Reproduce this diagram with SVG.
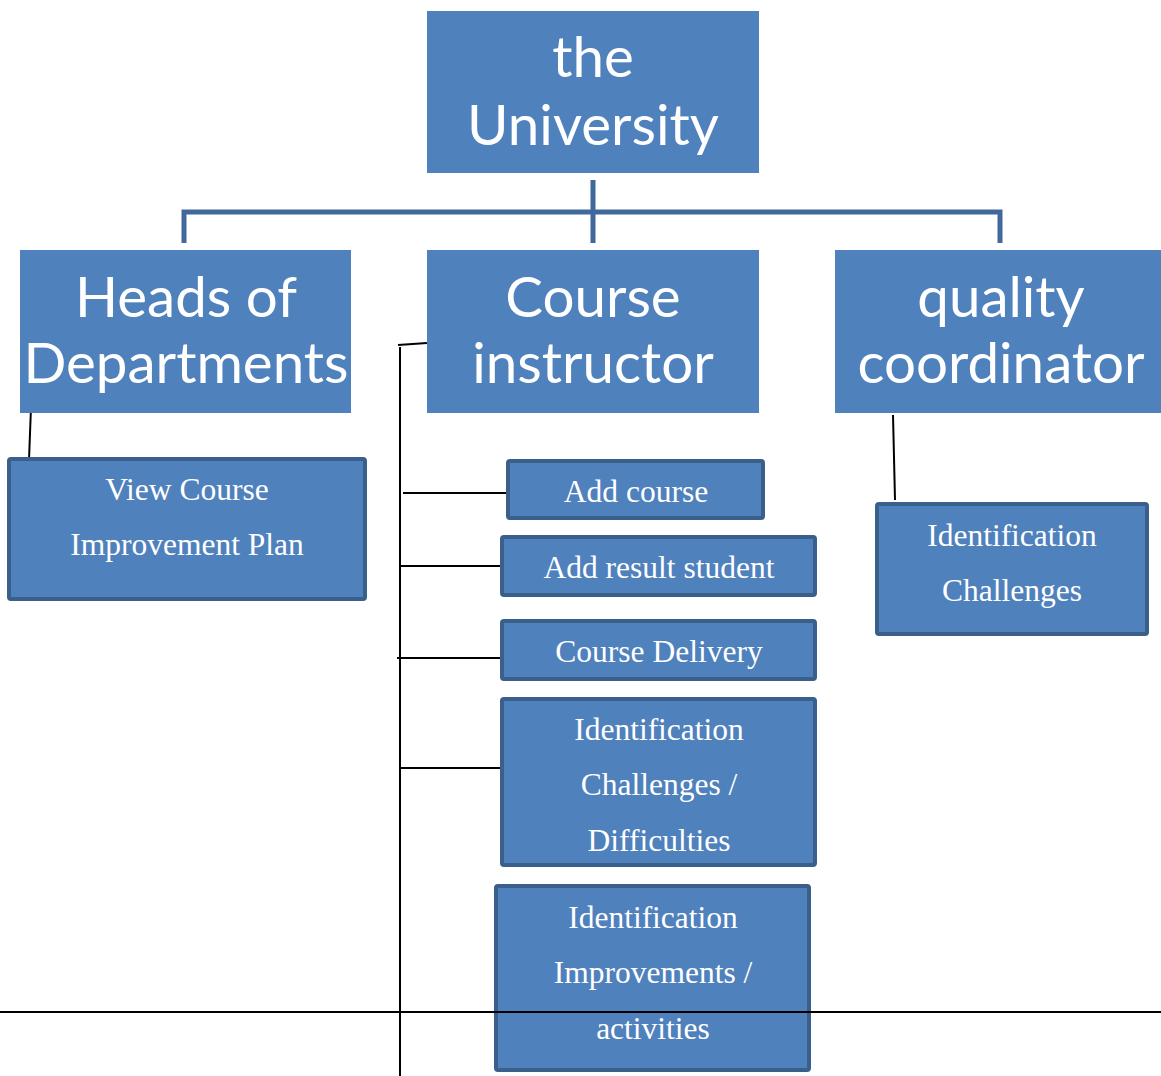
<svg xmlns="http://www.w3.org/2000/svg" width="1161" height="1076" viewBox="0 0 1161 1076">
<style>
.big{fill:#4F81BD}
.bt{font-family:Lato,"Open Sans",sans-serif;font-size:56.5px;fill:#fff;text-anchor:middle}
.box{fill:#4F81BD;stroke:#3A5F8B;stroke-width:4}
.st{font-family:"Liberation Serif","Times New Roman",serif;font-size:31.5px;fill:#fff;text-anchor:middle}
.blue{stroke:#41689A;stroke-width:5;fill:none}
.blk{stroke:#000;stroke-width:2;fill:none}
</style>
<rect width="1161" height="1076" fill="#fff"/>
<g id="connectors">
<path class="blue" d="M593 180V243M184 243V212H1000V243"/>
<path class="blk" d="M31 407L29 460"/>
<path class="blk" d="M427 343L398 345M400 347V1076"/>
<path class="blk" d="M403 493H506M400 566H502M397 658H500M400 768H502"/>
<path class="blk" d="M893 415L895 500"/>
</g>
<g id="university"><rect class="big" x="427" y="11" width="332" height="162"/>
<text class="bt" x="593" y="77">the</text><text class="bt" x="593" y="145">University</text></g>
<g id="heads"><rect class="big" x="20" y="250" width="331" height="163"/>
<text class="bt" x="186" y="317">Heads of</text><text class="bt" x="186" y="383">Departments</text></g>
<g id="instructor"><rect class="big" x="427" y="250" width="332" height="163"/>
<text class="bt" x="593" y="317">Course</text><text class="bt" x="593" y="383">instructor</text></g>
<g id="quality"><rect class="big" x="835" y="250" width="326" height="163"/>
<text class="bt" x="1001" y="317">quality</text><text class="bt" x="1001" y="383">coordinator</text></g>
<g id="view-plan"><rect class="box" x="9" y="459" width="356" height="140" rx="2"/>
<text class="st" x="187" y="500">View Course</text><text class="st" x="187" y="555">Improvement Plan</text></g>
<g id="add-course"><rect class="box" x="508" y="461" width="255" height="57" rx="2"/>
<text class="st" x="636" y="502">Add course</text></g>
<g id="add-result"><rect class="box" x="502" y="537" width="313" height="58" rx="2"/>
<text class="st" x="659" y="578">Add result student</text></g>
<g id="delivery"><rect class="box" x="502" y="621" width="313" height="58" rx="2"/>
<text class="st" x="659" y="662">Course Delivery</text></g>
<g id="challenges"><rect class="box" x="502" y="699" width="313" height="166" rx="2"/>
<text class="st" x="659" y="740">Identification</text><text class="st" x="659" y="795">Challenges /</text><text class="st" x="659" y="851">Difficulties</text></g>
<g id="improvements"><rect class="box" x="496" y="886" width="313" height="184" rx="2"/>
<text class="st" x="653" y="928">Identification</text><text class="st" x="653" y="983">Improvements /</text><text class="st" x="653" y="1039">activities</text></g>
<g id="qc-challenges"><rect class="box" x="877" y="504" width="270" height="130" rx="2"/>
<text class="st" x="1012" y="546">Identification</text><text class="st" x="1012" y="601">Challenges</text></g>
<g id="page-rule"><path class="blk" d="M0 1012H1161"/></g>
</svg>
